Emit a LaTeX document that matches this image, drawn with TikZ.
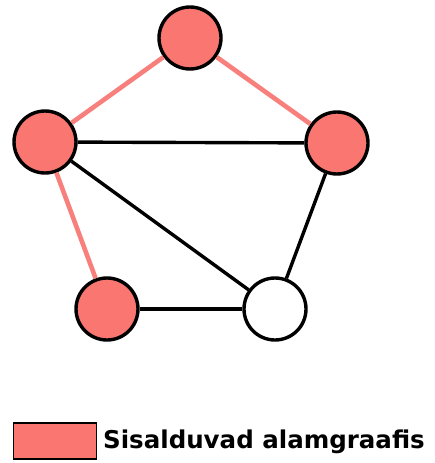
\documentclass[tikz,border=0pt]{standalone}
\usepackage{fontspec}
\setmainfont{DejaVu Sans}
\definecolor{salmon}{RGB}{249,118,113}
\definecolor{edgepink}{RGB}{247,128,124}
\begin{document}
\begin{tikzpicture}[x=1pt,y=1pt,
  vertex/.style={circle,draw=black,line width=3.4pt,minimum size=62pt,inner sep=0pt},
  marked/.style={vertex,fill=salmon},
  plain/.style={vertex,fill=white},
  edgeblack/.style={draw=black,line width=3.4pt},
  edgesub/.style={draw=edgepink,line width=4.6pt},
  legendbox/.style={draw=black,line width=1.6pt,fill=salmon,minimum width=83pt,minimum height=36pt,inner sep=0pt}]
  \useasboundingbox (0,0) rectangle (434,-463);
  % vertices
  \node[marked] (top) at (190,-38) {};
  \node[marked] (left) at (45,-142) {};
  \node[marked] (right) at (337,-143) {};
  \node[marked] (bl) at (107,-309) {};
  \node[plain] (br) at (275,-309) {};
  % edges of the subgraph
  \path[edgesub] (top) -- (left);
  \path[edgesub] (top) -- (right);
  \path[edgesub] (left) -- (bl);
  % remaining edges
  \path[edgeblack] (left) -- (right);
  \path[edgeblack] (left) -- (br);
  \path[edgeblack] (right) -- (br);
  \path[edgeblack] (bl) -- (br);
  % legend
  \node[legendbox] (key) at (55,-441) {};
  \node[anchor=west,inner sep=0pt,font=\bfseries\fontsize{24.5}{28}\selectfont] (keytext) at (103,-442) {Sisalduvad alamgraafis};
\end{tikzpicture}
\end{document}
